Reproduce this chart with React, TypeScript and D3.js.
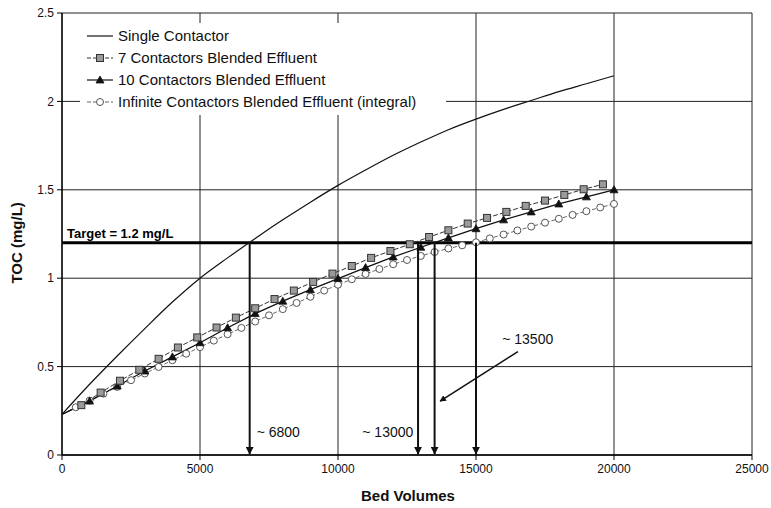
import React from "react";
import * as d3 from "d3";

const singleBV = [0, 1000, 2000, 3000, 4000, 5000, 6000, 7000, 8000, 9000, 10000, 11000, 12000, 13000, 14000, 15000, 16000, 17000, 18000, 19000, 20000];
const singleTOC = [0.23, 0.4, 0.56, 0.715, 0.865, 1.0, 1.115, 1.225, 1.33, 1.43, 1.525, 1.612, 1.695, 1.77, 1.84, 1.9, 1.955, 2.005, 2.055, 2.1, 2.145];

const sevenBV = [0, 700, 1400, 2100, 2800, 3500, 4200, 4900, 5600, 6300, 7000, 7700, 8400, 9100, 9800, 10500, 11200, 11900, 12600, 13300, 14000, 14700, 15400, 16100, 16800, 17500, 18200, 18900, 19600];
const sevenTOC = [0.23, 0.282, 0.353, 0.42, 0.482, 0.544, 0.608, 0.665, 0.721, 0.777, 0.83, 0.882, 0.93, 0.979, 1.026, 1.069, 1.115, 1.154, 1.192, 1.233, 1.271, 1.309, 1.341, 1.375, 1.409, 1.439, 1.471, 1.503, 1.531];

const tenBV = [0, 1000, 2000, 3000, 4000, 5000, 6000, 7000, 8000, 9000, 10000, 11000, 12000, 13000, 14000, 15000, 16000, 17000, 18000, 19000, 20000];
const tenTOC = [0.23, 0.305, 0.39, 0.475, 0.555, 0.635, 0.72, 0.8, 0.87, 0.935, 0.998, 1.06, 1.12, 1.175, 1.228, 1.28, 1.33, 1.375, 1.42, 1.46, 1.5];

const infBV = [0, 500, 1000, 1500, 2000, 2500, 3000, 3500, 4000, 4500, 5000, 5500, 6000, 6500, 7000, 7500, 8000, 8500, 9000, 9500, 10000, 10500, 11000, 11500, 12000, 12500, 13000, 13500, 14000, 14500, 15000, 15500, 16000, 16500, 17000, 17500, 18000, 18500, 19000, 19500, 20000];
const infTOC = [0.23, 0.27, 0.308, 0.347, 0.385, 0.423, 0.461, 0.498, 0.536, 0.573, 0.61, 0.647, 0.683, 0.719, 0.755, 0.79, 0.825, 0.86, 0.895, 0.93, 0.963, 0.994, 1.024, 1.052, 1.079, 1.103, 1.126, 1.148, 1.168, 1.186, 1.203, 1.225, 1.247, 1.27, 1.292, 1.314, 1.336, 1.358, 1.379, 1.4, 1.42];

const xTicks = [0, 5000, 10000, 15000, 20000, 25000];
const yTicks = [0, 0.5, 1, 1.5, 2, 2.5];
const yTickLabels = ["0", "0.5", "1", "1.5", "2", "2.5"];

const legendLabels = [
  "Single Contactor",
  "7 Contactors Blended Effluent",
  "10 Contactors Blended Effluent",
  "Infinite Contactors Blended Effluent (integral)",
];

const target = 1.2;
const arrowBV = [6800, 12900, 13500, 15000];

const W = 771;
const H = 508;
const FONT = "Liberation Sans, Arial, sans-serif";

export default function App() {
  const x = d3.scaleLinear().domain([0, 25000]).range([62, 752]);
  const y = d3.scaleLinear().domain([0, 2.5]).range([455, 13]);

  const toPts = (bv: number[], v: number[]) => bv.map((b, i) => [b, v[i]] as [number, number]);
  const lineSmooth = d3.line<[number, number]>().x((d) => x(d[0])).y((d) => y(d[1])).curve(d3.curveMonotoneX);
  const lineLin = d3.line<[number, number]>().x((d) => x(d[0])).y((d) => y(d[1]));

  const single = toPts(singleBV, singleTOC);
  const seven = toPts(sevenBV, sevenTOC);
  const ten = toPts(tenBV, tenTOC);
  const inf = toPts(infBV, infTOC);

  const square = (cx: number, cy: number, k: string) => (
    <rect key={k} x={cx - 3.5} y={cy - 3.5} width={7} height={7} fill="#9a9a9a" stroke="#333" strokeWidth={1} />
  );
  const tri = (cx: number, cy: number, k: string) => (
    <path key={k} d={`M${cx},${cy - 4} L${cx + 4},${cy + 3} L${cx - 4},${cy + 3} Z`} fill="#111" stroke="#111" strokeWidth={0.8} />
  );
  const circ = (cx: number, cy: number, k: string) => (
    <circle key={k} cx={cx} cy={cy} r={3.5} fill="#fff" stroke="#555" strokeWidth={1} />
  );

  const legendY = [36, 58, 80, 102];

  return (
    <svg width={W} height={H} style={{ position: "absolute", left: 0, top: 0, background: "#fff" }} fontFamily={FONT}>
      <defs>
        <marker id="ah" viewBox="0 0 10 10" refX="9" refY="5" markerWidth="4" markerHeight="4" orient="auto">
          <path d="M0,0 L10,5 L0,10 Z" fill="#111" />
        </marker>
      </defs>
      <rect x={0} y={0} width={W} height={H} fill="#fff" />
      {yTicks.map((t) => (
        <line key={"gy" + t} x1={x(0)} x2={x(25000)} y1={y(t)} y2={y(t)} stroke="#222" strokeWidth={1} />
      ))}
      {xTicks.map((t) => (
        <line key={"gx" + t} x1={x(t)} x2={x(t)} y1={y(0)} y2={y(2.5)} stroke="#222" strokeWidth={1} />
      ))}
      <line x1={x(0)} x2={x(0)} y1={y(0)} y2={y(2.5)} stroke="#000" strokeWidth={1.3} />
      <line x1={x(0)} x2={x(25000)} y1={y(0)} y2={y(0)} stroke="#000" strokeWidth={1.3} />
      {yTicks.map((t, i) => (
        <g key={"ty" + t}>
          <line x1={x(0) - 5} x2={x(0)} y1={y(t)} y2={y(t)} stroke="#000" />
          <text x={x(0) - 8} y={y(t)} dy="0.35em" textAnchor="end" fontSize={12} fill="#111">
            {yTickLabels[i]}
          </text>
        </g>
      ))}
      {xTicks.map((t) => (
        <g key={"tx" + t}>
          <line x1={x(t)} x2={x(t)} y1={y(0)} y2={y(0) + 5} stroke="#000" />
          <text x={x(t)} y={y(0) + 18} textAnchor="middle" fontSize={12} fill="#111">
            {t}
          </text>
        </g>
      ))}
      <text x={408} y={501} textAnchor="middle" fontSize={15} fontWeight="bold" fill="#111">
        Bed Volumes
      </text>
      <text transform={`translate(22,${y(1.2)}) rotate(-90)`} textAnchor="middle" fontSize={15} fontWeight="bold" fill="#111">
        TOC (mg/L)
      </text>

      <line x1={x(0)} x2={x(25000)} y1={y(target)} y2={y(target)} stroke="#000" strokeWidth={3} />
      <text x={67} y={y(target) - 5} fontSize={13} fontWeight="bold" fill="#000">
        Target = 1.2 mg/L
      </text>

      <path d={lineSmooth(single) || ""} fill="none" stroke="#111" strokeWidth={1.2} />
      <path d={lineLin(inf) || ""} fill="none" stroke="#666" strokeWidth={1} strokeDasharray="4,2" />
      <path d={lineLin(seven) || ""} fill="none" stroke="#333" strokeWidth={1} strokeDasharray="5,2" />
      <path d={lineLin(ten) || ""} fill="none" stroke="#111" strokeWidth={1.3} />
      {inf.slice(1).map((d, i) => circ(x(d[0]), y(d[1]), "c" + i))}
      {ten.slice(1).map((d, i) => tri(x(d[0]), y(d[1]), "t" + i))}
      {seven.slice(1).map((d, i) => square(x(d[0]), y(d[1]), "s" + i))}

      {arrowBV.map((b) => (
        <line key={"a" + b} x1={x(b)} x2={x(b)} y1={y(target)} y2={y(0) - 1} stroke="#111" strokeWidth={2} markerEnd="url(#ah)" />
      ))}
      <line x1={x(16520)} y1={y(0.585)} x2={x(13700)} y2={y(0.305)} stroke="#111" strokeWidth={1.6} markerEnd="url(#ah)" />
      <text x={x(6800) + 7} y={y(0.1)} fontSize={14} fill="#111">~ 6800</text>
      <text x={x(10880)} y={y(0.1)} fontSize={14} fill="#111">~ 13000</text>
      <text x={x(15950)} y={y(0.63)} fontSize={14} fill="#111">~ 13500</text>

      <rect x={80} y={23} width={366} height={92} fill="#fff" />
      {legendLabels.map((lab, i) => {
        const ly = legendY[i];
        return (
          <g key={"l" + i}>
            <line x1={87} x2={113} y1={ly} y2={ly}
              stroke={i === 3 ? "#666" : i === 1 ? "#333" : "#111"}
              strokeWidth={1.2}
              strokeDasharray={i === 1 || i === 3 ? "4,2" : undefined} />
            {i === 1 && square(100, ly, "ls")}
            {i === 2 && tri(100, ly, "lt")}
            {i === 3 && circ(100, ly, "lc")}
            <text x={118} y={ly} dy="0.35em" fontSize={15} fill="#111">{lab}</text>
          </g>
        );
      })}
    </svg>
  );
}
